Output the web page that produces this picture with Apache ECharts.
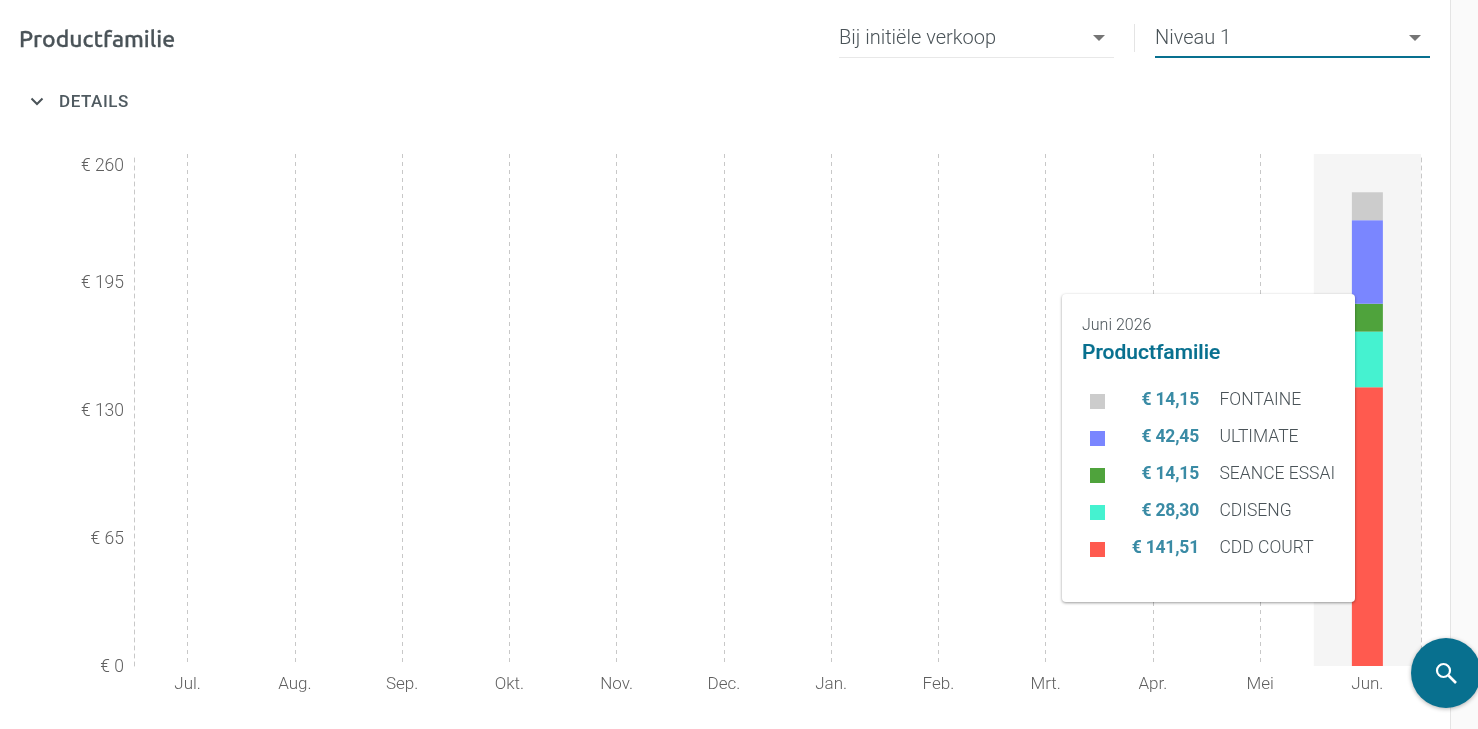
<!DOCTYPE html>
<html>
<head>
<meta charset="utf-8">
<script src="https://cdn.jsdelivr.net/npm/echarts@6/dist/echarts.min.js"></script>
<style>
html,body{margin:0;padding:0;width:1478px;height:729px;overflow:hidden;background:#fff;font-family:Roboto,sans-serif;}
#chart{position:absolute;left:0;top:0;width:1478px;height:729px;}
.abs{position:absolute;white-space:nowrap;}
#side{position:absolute;left:1450px;top:0;width:28px;height:729px;background:#fafafa;border-left:1px solid #e4e4e4;box-sizing:border-box;}
.arrow{position:absolute;width:0;height:0;border-left:6.5px solid transparent;border-right:6.5px solid transparent;border-top:6.5px solid #757575;}
.tt{position:relative;width:293px;height:308px;background:#fff;border-radius:4px;box-shadow:0 1px 3px rgba(0,0,0,.4);font-family:Roboto,sans-serif;}
.tt div{position:absolute;white-space:nowrap;}
</style>
</head>
<body>
<div id="side"></div>
<div id="chart"></div>

<div class="abs" style="left:19px;top:24px;font:500 23px/30px Ubuntu,'Noto Sans',sans-serif;color:#4a5358;-webkit-text-stroke:.3px #4a5358;">Productfamilie</div>
<svg class="abs" style="left:29px;top:96px" width="16" height="12" viewBox="0 0 16 12"><path d="M2.5 2.5 L8 8 L13.5 2.5" fill="none" stroke="#4a5358" stroke-width="2"/></svg>
<div class="abs" style="left:59px;top:90px;font:500 17px/22px Roboto,sans-serif;color:#4f5a60;letter-spacing:.55px;">DETAILS</div>

<div class="abs" style="left:839px;top:24px;font:300 20px/26px Roboto,sans-serif;color:#4a5358;">Bij initiële verkoop</div>
<div class="arrow" style="left:1092.5px;top:35px;"></div>
<div class="abs" style="left:839px;top:57px;width:275px;height:1px;background:#e8e8e8;"></div>
<div class="abs" style="left:1134px;top:24px;width:1px;height:28px;background:#e4e4e4;"></div>
<div class="abs" style="left:1155px;top:24px;font:300 20px/26px Roboto,sans-serif;color:#4a5358;">Niveau 1</div>
<div class="arrow" style="left:1408.5px;top:35px;"></div>
<div class="abs" style="left:1155px;top:56px;width:275px;height:2px;background:#08708f;"></div>

<div class="abs" style="left:1411px;top:638px;width:70px;height:70px;border-radius:50%;background:#08708f;box-shadow:0 1px 4px rgba(0,0,0,.3);">
<svg style="position:absolute;left:22px;top:22px" width="26" height="26" viewBox="0 0 26 26"><circle cx="10.5" cy="10.5" r="6.5" fill="none" stroke="#fff" stroke-width="2.2"/><path d="M15.5 15.5 L23 23" stroke="#fff" stroke-width="2.6"/></svg>
</div>

<script>
const categories = ['Jul.','Aug.','Sep.','Okt.','Nov.','Dec.','Jan.','Feb.','Mrt.','Apr.','Mei','Jun.'];
const yTicks = {min:0, max:260, step:65};
const cddCourt   = [0,0,0,0,0,0,0,0,0,0,0,141.51];
const cdiseng    = [0,0,0,0,0,0,0,0,0,0,0,28.30];
const seanceEssai= [0,0,0,0,0,0,0,0,0,0,0,14.15];
const ultimate   = [0,0,0,0,0,0,0,0,0,0,0,42.45];
const fontaine   = [0,0,0,0,0,0,0,0,0,0,0,14.15];
const seriesNames  = ['CDD COURT','CDISENG','SEANCE ESSAI','ULTIMATE','FONTAINE'];
const seriesValues = [cddCourt,cdiseng,seanceEssai,ultimate,fontaine];
const seriesColors = ['#ff5a4f','#45f2d0','#4fa33c','#7a86ff','#cccccc'];
const tooltipPeriod = 'Juni 2026';
const tooltipTitle = 'Productfamilie';

const dash = {color:'#c8c8c8',type:[4,4],width:1};
const labelFont = {fontFamily:'Roboto',fontWeight:300,fontSize:17.5,color:'#5f5f5f',lineHeight:20};
const chart = echarts.init(document.getElementById('chart'));

function tooltipHtml(params){
  const rows = params.slice().reverse();
  let h = '<div class="tt">'
    + '<div style="left:20px;top:22px;font:300 16px/18px Roboto,sans-serif;color:#4a5358;">'+tooltipPeriod+'</div>'
    + '<div style="left:20px;top:45px;font:500 21px/26px Roboto,sans-serif;color:#08708f;-webkit-text-stroke:.2px #08708f;">'+tooltipTitle+'</div>';
  rows.forEach((p,i)=>{
    const y = 92 + i*37;
    const val = '€ ' + p.value.toFixed(2).replace('.',',');
    h += '<div style="left:28px;top:'+(y+8)+'px;width:15px;height:15px;background:'+p.color+';"></div>'
      + '<div style="right:156px;top:'+y+'px;font:700 17.5px/26px Roboto,sans-serif;letter-spacing:-.2px;color:#3a8ba5;">'+val+'</div>'
      + '<div style="left:157.5px;top:'+y+'px;font:300 17.5px/26px Roboto,sans-serif;color:#4a5358;">'+p.seriesName+'</div>';
  });
  return h + '</div>';
}

chart.setOption({
  animation:false,
  grid:{left:134,right:57,top:154,height:512,containLabel:false},
  tooltip:{
    trigger:'axis',
    alwaysShowContent:true,
    triggerOn:'none',
    transitionDuration:0,
    padding:0,
    borderWidth:0,
    backgroundColor:'transparent',
    extraCssText:'box-shadow:none;',
    position:[1062,294],
    axisPointer:{type:'shadow',z:1,shadowStyle:{color:'#f5f5f5',opacity:1}},
    formatter:tooltipHtml
  },
  xAxis:{
    type:'category',
    data:categories,
    axisLine:{show:false},
    axisTick:{show:false},
    axisLabel:{fontFamily:'Roboto',fontWeight:300,fontSize:17,color:'#5f5f5f',margin:10},
    splitLine:{show:true,alignWithLabel:true,lineStyle:dash}
  },
  yAxis:[
    {type:'value',min:yTicks.min,max:yTicks.max,interval:yTicks.step,
     axisLine:{show:true,lineStyle:dash},axisTick:{show:false},splitLine:{show:false},
     axisLabel:{
       formatter:v=>(v===yTicks.max?'{b|€ ':'{a|€ ')+v+'}',
       margin:10,
       verticalAlignMaxLabel:'top',
       rich:{
         a:Object.assign({padding:[4,0,0,0]},labelFont),
         b:Object.assign({padding:[6,0,0,0]},labelFont)
       }
     }},
    {type:'value',position:'right',min:yTicks.min,max:yTicks.max,interval:yTicks.step,
     axisLine:{show:true,lineStyle:dash},axisTick:{show:false},splitLine:{show:false},axisLabel:{show:false}}
  ],
  series:seriesNames.map((n,i)=>({
    name:n,type:'bar',stack:'total',barWidth:31,data:seriesValues[i],
    itemStyle:{color:seriesColors[i]},
    emphasis:{disabled:true}
  }))
});
chart.dispatchAction({type:'showTip',seriesIndex:0,dataIndex:11});
</script>
</body>
</html>
